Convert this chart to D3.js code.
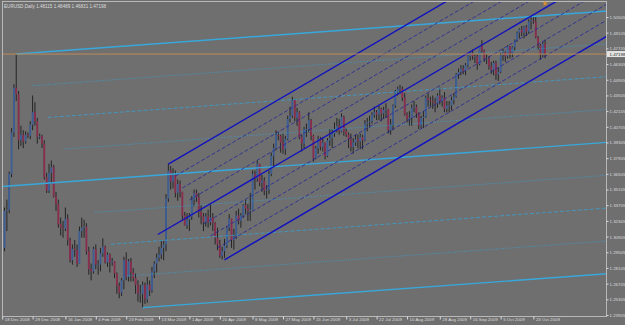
<!DOCTYPE html>
<html>
<head>
<meta charset="utf-8">
<script src="https://cdn.jsdelivr.net/npm/d3@7"></script>
<style>
  body { margin: 0; background: #6f6f6f; }
  svg { display: block; }
</style>
</head>
<body>
<svg id="chart" width="625" height="325"></svg>
<script>
/* EURUSD Daily, MT4 style: candles plus two hand drawn channels */

const dateLabels = ['18 Dec 2008', '29 Dec 2008', '16 Jan 2009', '4 Feb 2009', '23 Feb 2009', '13 Mar 2009',
  '1 Apr 2009', '20 Apr 2009', '8 May 2009', '27 May 2009', '15 Jun 2009', '3 Jul 2009', '22 Jul 2009',
  '10 Aug 2009', '28 Aug 2009', '16 Sep 2009', '5 Oct 2009', '23 Oct 2009']
const dateTickBars = [0, 13, 27, 40, 53, 67, 80, 93, 107, 120, 133, 147, 160, 173, 187, 200, 213, 227]

const priceTicks = [1.50505, 1.49105, 1.47705, 1.46305, 1.44905, 1.43505, 1.42105, 1.40705, 1.39305, 1.37905,
  1.36505, 1.35105, 1.33705, 1.32305, 1.30905, 1.29505, 1.28105, 1.26705, 1.25305, 1.23905]

const symbolTitle = 'EURUSD,Daily'
const lastQuote = ['1.48115', '1.48489', '1.46831', '1.47198']
const bidPrice = 1.47198

// daily bars, 10 Dec 2008 .. 30 Oct 2009; open = previous close
const firstOpen = 1.2930
const closes = [
  1.2990, 1.3320, 1.3330, 1.3650, 1.4020, 1.4420, 1.4360, 1.3950, 1.4000, 1.3940,
  1.4000, 1.3990, 1.4090, 1.4200, 1.4120, 1.3980, 1.3990, 1.3920, 1.3620, 1.3500,
  1.3660, 1.3710, 1.3450, 1.3380, 1.3200, 1.3170, 1.3160, 1.3250, 1.3060, 1.2880,
  1.2980, 1.2970, 1.2850, 1.3140, 1.3170, 1.3180, 1.2960, 1.2800, 1.2780, 1.2980,
  1.2840, 1.2840, 1.2940, 1.3000, 1.2860, 1.2930, 1.2860, 1.2870, 1.2760, 1.2650,
  1.2590, 1.2700, 1.2880, 1.2730, 1.2870, 1.2770, 1.2720, 1.2660, 1.2580, 1.2580,
  1.2660, 1.2530, 1.2660, 1.2610, 1.2780, 1.2850, 1.2900, 1.2930, 1.2990, 1.3020,
  1.3430, 1.3680, 1.3580, 1.3640, 1.3480, 1.3560, 1.3490, 1.3280, 1.3190, 1.3240,
  1.3270, 1.3420, 1.3480, 1.3440, 1.3310, 1.3270, 1.3220, 1.3270, 1.3220, 1.3260,
  1.3210, 1.3080, 1.3020, 1.2920, 1.2960, 1.3010, 1.3170, 1.3250, 1.3060, 1.3090,
  1.3280, 1.3230, 1.3280, 1.3370, 1.3340, 1.3320, 1.3330, 1.3650, 1.3610, 1.3740,
  1.3570, 1.3590, 1.3500, 1.3510, 1.3650, 1.3810, 1.3880, 1.4000, 1.3990, 1.3930,
  1.3870, 1.3960, 1.4140, 1.4170, 1.4310, 1.4150, 1.4200, 1.3980, 1.3920, 1.4050,
  1.4050, 1.4130, 1.3990, 1.3790, 1.3880, 1.3960, 1.3890, 1.3930, 1.3810, 1.3950,
  1.3970, 1.4010, 1.4050, 1.4080, 1.4030, 1.4160, 1.4030, 1.4000, 1.3960, 1.3890,
  1.3930, 1.3960, 1.3940, 1.3980, 1.3950, 1.4100, 1.4110, 1.4120, 1.4180, 1.4200,
  1.4180, 1.4230, 1.4190, 1.4220, 1.4230, 1.4040, 1.4090, 1.4260, 1.4390, 1.4410,
  1.4410, 1.4330, 1.4180, 1.4140, 1.4150, 1.4240, 1.4250, 1.4190, 1.4080, 1.4150,
  1.4160, 1.4330, 1.4310, 1.4300, 1.4290, 1.4280, 1.4350, 1.4300, 1.4330, 1.4230,
  1.4260, 1.4260, 1.4310, 1.4340, 1.4540, 1.4560, 1.4590, 1.4570, 1.4620, 1.4700,
  1.4730, 1.4700, 1.4700, 1.4630, 1.4790, 1.4750, 1.4680, 1.4680, 1.4610, 1.4580,
  1.4640, 1.4540, 1.4560, 1.4710, 1.4740, 1.4700, 1.4790, 1.4720, 1.4780, 1.4840,
  1.4910, 1.4940, 1.4910, 1.4960, 1.4920, 1.5010, 1.5020, 1.5010, 1.4870, 1.4800,
  1.4710, 1.4812, 1.47198]
const highs = [
  1.3040, 1.3350, 1.3420, 1.3670, 1.4060, 1.4450, 1.4720, 1.4390, 1.4080, 1.4040,
  1.4030, 1.4020, 1.4120, 1.4350, 1.4290, 1.4150, 1.4010, 1.4000, 1.3950, 1.3660,
  1.3740, 1.3770, 1.3730, 1.3490, 1.3420, 1.3260, 1.3230, 1.3350, 1.3290, 1.3080,
  1.3020, 1.3060, 1.3020, 1.3180, 1.3260, 1.3240, 1.3210, 1.3000, 1.2850, 1.3000,
  1.3020, 1.2880, 1.2990, 1.3075, 1.3010, 1.2950, 1.2940, 1.2900, 1.2870, 1.2770,
  1.2680, 1.2720, 1.2910, 1.2950, 1.2890, 1.2900, 1.2810, 1.2760, 1.2700, 1.2660,
  1.2690, 1.2680, 1.2730, 1.2700, 1.2820, 1.2870, 1.2940, 1.3000, 1.3060, 1.3050,
  1.3470, 1.3738, 1.3720, 1.3700, 1.3680, 1.3600, 1.3590, 1.3490, 1.3310, 1.3300,
  1.3300, 1.3450, 1.3510, 1.3510, 1.3480, 1.3370, 1.3300, 1.3300, 1.3330, 1.3390,
  1.3300, 1.3220, 1.3170, 1.3060, 1.3000, 1.3070, 1.3180, 1.3290, 1.3250, 1.3160,
  1.3320, 1.3340, 1.3300, 1.3380, 1.3420, 1.3380, 1.3480, 1.3680, 1.3680, 1.3770,
  1.3740, 1.3640, 1.3620, 1.3550, 1.3680, 1.3840, 1.3920, 1.4040, 1.4020, 1.4000,
  1.4010, 1.3990, 1.4170, 1.4250, 1.4338, 1.4320, 1.4240, 1.4210, 1.4000, 1.4070,
  1.4100, 1.4200, 1.4140, 1.4000, 1.3900, 1.3990, 1.3980, 1.3980, 1.3930, 1.3970,
  1.4050, 1.4050, 1.4110, 1.4150, 1.4140, 1.4190, 1.4170, 1.4060, 1.4020, 1.4010,
  1.3970, 1.4000, 1.4000, 1.4010, 1.4000, 1.4130, 1.4150, 1.4170, 1.4200, 1.4250,
  1.4220, 1.4260, 1.4240, 1.4250, 1.4280, 1.4230, 1.4140, 1.4270, 1.4400, 1.4430,
  1.4445, 1.4430, 1.4370, 1.4200, 1.4210, 1.4270, 1.4300, 1.4270, 1.4200, 1.4170,
  1.4210, 1.4350, 1.4370, 1.4340, 1.4350, 1.4330, 1.4370, 1.4420, 1.4350, 1.4380,
  1.4300, 1.4300, 1.4340, 1.4370, 1.4550, 1.4590, 1.4620, 1.4620, 1.4640, 1.4710,
  1.4740, 1.4760, 1.4720, 1.4720, 1.4790, 1.4844, 1.4760, 1.4720, 1.4700, 1.4650,
  1.4660, 1.4660, 1.4600, 1.4730, 1.4770, 1.4750, 1.4800, 1.4790, 1.4790, 1.4850,
  1.4920, 1.4950, 1.4970, 1.4970, 1.4980, 1.5030, 1.5050, 1.5060, 1.5061, 1.4880,
  1.4810, 1.4830, 1.48489]
const lows = [
  1.2900, 1.2960, 1.3140, 1.3300, 1.3620, 1.3980, 1.4300, 1.3870, 1.3900, 1.3880,
  1.3920, 1.3970, 1.3960, 1.4040, 1.4080, 1.3920, 1.3960, 1.3880, 1.3600, 1.3480,
  1.3480, 1.3560, 1.3440, 1.3320, 1.3170, 1.3100, 1.3080, 1.3140, 1.3010, 1.2860,
  1.2840, 1.2910, 1.2820, 1.2850, 1.3080, 1.3080, 1.2930, 1.2750, 1.2700, 1.2760,
  1.2800, 1.2750, 1.2780, 1.2910, 1.2850, 1.2820, 1.2770, 1.2830, 1.2720, 1.2580,
  1.2540, 1.2560, 1.2620, 1.2700, 1.2690, 1.2690, 1.2690, 1.2580, 1.2510, 1.2500,
  1.2456, 1.2490, 1.2500, 1.2560, 1.2590, 1.2720, 1.2770, 1.2870, 1.2890, 1.2880,
  1.2960, 1.3400, 1.3510, 1.3520, 1.3440, 1.3410, 1.3440, 1.3240, 1.3200, 1.3160,
  1.3140, 1.3240, 1.3360, 1.3400, 1.3260, 1.3200, 1.3140, 1.3180, 1.3170, 1.3190,
  1.3140, 1.3020, 1.2970, 1.2900, 1.2886, 1.2900, 1.2990, 1.3140, 1.2990, 1.2975,
  1.3070, 1.3200, 1.3170, 1.3260, 1.3290, 1.3230, 1.3230, 1.3330, 1.3510, 1.3580,
  1.3540, 1.3490, 1.3460, 1.3430, 1.3470, 1.3630, 1.3720, 1.3860, 1.3950, 1.3840,
  1.3830, 1.3820, 1.3950, 1.4110, 1.4150, 1.4120, 1.4080, 1.3960, 1.3850, 1.3880,
  1.3980, 1.4020, 1.3950, 1.3760, 1.3780, 1.3830, 1.3860, 1.3850, 1.3780, 1.3800,
  1.3900, 1.3880, 1.3980, 1.4020, 1.4000, 1.4020, 1.3990, 1.3980, 1.3880, 1.3850,
  1.3830, 1.3900, 1.3880, 1.3870, 1.3870, 1.3940, 1.4030, 1.4060, 1.4100, 1.4150,
  1.4130, 1.4130, 1.4120, 1.4140, 1.4150, 1.4010, 1.4000, 1.4040, 1.4240, 1.4350,
  1.4370, 1.4300, 1.4170, 1.4110, 1.4080, 1.4080, 1.4200, 1.4150, 1.4050, 1.4060,
  1.4060, 1.4150, 1.4250, 1.4250, 1.4230, 1.4200, 1.4240, 1.4270, 1.4250, 1.4200,
  1.4200, 1.4200, 1.4220, 1.4270, 1.4330, 1.4500, 1.4530, 1.4540, 1.4530, 1.4600,
  1.4660, 1.4670, 1.4640, 1.4580, 1.4620, 1.4730, 1.4650, 1.4630, 1.4580, 1.4540,
  1.4530, 1.4490, 1.4480, 1.4550, 1.4660, 1.4650, 1.4680, 1.4680, 1.4690, 1.4750,
  1.4830, 1.4860, 1.4880, 1.4860, 1.4880, 1.4900, 1.4940, 1.4990, 1.4860, 1.4760,
  1.4670, 1.4690, 1.46831]

// channel objects: [bar, price] points
const cyanBase = [[6, 1.4720], [228, 1.5058]]
const cyanAnchor = [60, 1.2456]
const cyanMidStart = -2
const blueBase = [[71, 1.3738], [190, 1.5192]]
const blueAnchor = [95, 1.2883]
const blueMidStart = 66.5
const cyanStyles = ['solid', 'dot', 'dash', 'dot', 'solid', 'dot', 'dash', 'dot', 'solid']
const blueStyles = ['solid', 'dash', 'dash', 'dash', 'solid', 'dash', 'dash', 'dash', 'solid']

const svg = d3.select('#chart')
const plot = { left: 2.5, right: 606.5, top: 1.5, bottom: 316.5 }

const x = d3.scaleLinear().domain([0, 232]).range([2.2, 545.1])
const y = d3.scaleLinear().domain([1.23905, 1.50505]).range([315, 17])

const font = 'Liberation Sans, Arial, sans-serif'
const fg = '#dcdcdc'

svg.append('defs').append('clipPath').attr('id', 'plotclip')
  .append('rect')
  .attr('x', plot.left).attr('y', plot.top)
  .attr('width', plot.right - plot.left).attr('height', plot.bottom - plot.top)

// candles
const bars = closes.map((c, i) => {
  const o = i === 0 ? firstOpen : closes[i - 1]
  return { i, o, c, h: Math.max(highs[i], o, c), l: Math.min(lows[i], o, c) }
})

const g = svg.append('g').attr('clip-path', 'url(#plotclip)')

g.selectAll('line.wick')
  .data(bars)
  .join('line')
  .attr('class', 'wick')
  .attr('x1', d => x(d.i)).attr('x2', d => x(d.i))
  .attr('y1', d => y(d.h)).attr('y2', d => y(d.l))
  .attr('stroke', '#111')
  .attr('stroke-width', 0.8)

g.selectAll('rect.body')
  .data(bars)
  .join('rect')
  .attr('class', 'body')
  .attr('x', d => x(d.i) - 0.9)
  .attr('width', 1.8)
  .attr('y', d => y(Math.max(d.o, d.c)))
  .attr('height', d => Math.max(0.8, Math.abs(y(d.o) - y(d.c))))
  .attr('fill', d => d.c >= d.o ? '#3d5f96' : '#8a2d4e')

// channels
function channelLevels (base, anchor, midStart) {
  const slope = (base[1][1] - base[0][1]) / (base[1][0] - base[0][0])
  const at = b => base[0][1] + slope * (b - base[0][0])
  const width = anchor[1] - at(anchor[0])
  const endBar = 262
  return d3.range(9).map(k => {
    const b0 = k === 4 ? midStart : base[0][0] + (anchor[0] - base[0][0]) * k / 8
    return { k, b0, p0: at(b0) + width * k / 8, b1: endBar, p1: at(endBar) + width * k / 8 }
  })
}

const dashOf = { solid: null, dot: '1,1.3', dash: '4,2' }

function drawChannel (levels, styles, color, thinColor, cls) {
  g.selectAll('line.' + cls)
    .data(levels)
    .join('line')
    .attr('class', cls)
    .attr('x1', d => x(d.b0)).attr('y1', d => y(d.p0))
    .attr('x2', d => x(d.b1)).attr('y2', d => y(d.p1))
    .attr('stroke', d => styles[d.k] === 'solid' ? color : thinColor)
    .attr('stroke-width', d => styles[d.k] === 'solid' ? 1.4 : 0.8)
    .attr('stroke-dasharray', d => dashOf[styles[d.k]])
}

drawChannel(channelLevels(cyanBase, cyanAnchor, cyanMidStart), cyanStyles, '#38a8dc', '#3a9fd0', 'cyan')
drawChannel(channelLevels(blueBase, blueAnchor, blueMidStart), blueStyles, '#1212c0', '#26269a', 'blue')

// bid line
g.append('line')
  .attr('x1', plot.left).attr('x2', plot.right)
  .attr('y1', y(bidPrice)).attr('y2', y(bidPrice))
  .attr('stroke', '#bb8a58')
  .attr('stroke-width', 1)

// frame
svg.append('rect')
  .attr('x', plot.left).attr('y', plot.top)
  .attr('width', plot.right - plot.left).attr('height', plot.bottom - plot.top)
  .attr('fill', 'none')
  .attr('stroke', '#b8b8b8')
  .attr('stroke-width', 1)

// price axis
const yAxis = svg.append('g')
  .attr('transform', `translate(${plot.right},0)`)
  .call(d3.axisRight(y).tickValues(priceTicks).tickFormat(d3.format('.5f')).tickSize(2).tickPadding(1))
yAxis.select('.domain').remove()
yAxis.selectAll('line').attr('stroke', fg)
yAxis.selectAll('text').attr('fill', fg).style('font-size', '4.4px').style('font-family', font)

const bidTag = svg.append('g').attr('transform', `translate(${plot.right},${y(bidPrice)})`)
bidTag.append('rect').attr('x', 0.5).attr('y', -3).attr('width', 18).attr('height', 6).attr('fill', '#e4e4e4')
bidTag.append('text').attr('x', 3).attr('y', 1.6).text(lastQuote[3])
  .attr('fill', '#222').style('font-size', '4.4px').style('font-family', font)

// time axis
const xAxis = svg.append('g')
  .attr('transform', `translate(0,${plot.bottom})`)
  .call(d3.axisBottom(x).tickValues(dateTickBars).tickFormat((d, k) => dateLabels[k]).tickSize(3).tickPadding(1))
xAxis.select('.domain').remove()
xAxis.selectAll('line').attr('stroke', fg)
xAxis.selectAll('text')
  .attr('fill', fg)
  .attr('text-anchor', 'start')
  .attr('x', 2)
  .attr('dy', '0.35em')
  .attr('y', 2.5)
  .style('font-size', '4.4px')
  .style('font-family', font)

// title
svg.append('text')
  .attr('x', 4).attr('y', 8)
  .text(symbolTitle + '  ' + lastQuote.join(' '))
  .attr('fill', fg)
  .style('font-size', '4.6px')
  .style('font-family', font)

// small marker at top of the last bar
svg.append('path')
  .attr('d', d3.symbol(d3.symbolStar, 10)())
  .attr('transform', `translate(${x(232)},3.5)`)
  .attr('fill', '#e0902c')
</script>
</body>
</html>
